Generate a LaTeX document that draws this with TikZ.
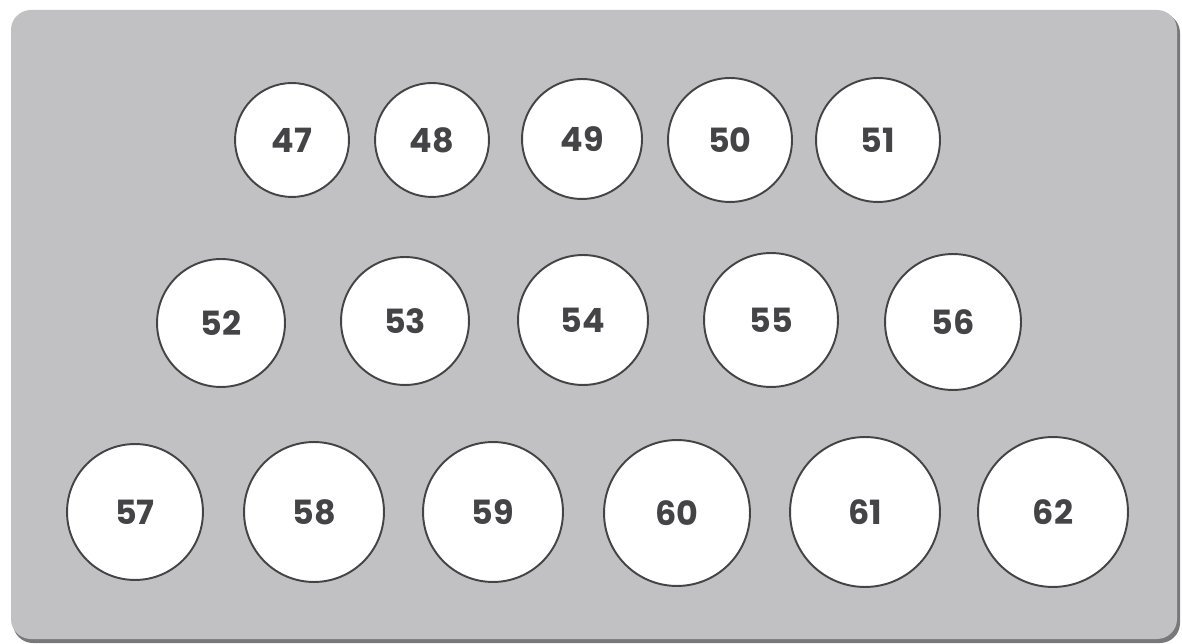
\documentclass[tikz,border=0pt]{standalone}
\usepackage{fontspec}
\setsansfont{Poppins}
\usetikzlibrary{positioning}
\definecolor{panel}{RGB}{193,193,196}
\definecolor{panelshade}{RGB}{120,120,124}
\definecolor{ink}{RGB}{68,68,70}

\begin{document}
\begin{tikzpicture}[x=0.02cm,y=-0.02cm,
  seat/.style={circle,draw=ink,fill=white,line width=1.1pt,inner sep=0pt,
               font=\sffamily\fontsize{19}{19}\selectfont\bfseries,text=ink}]
  \useasboundingbox (0,0) rectangle (1182,644);
  \fill[white] (0,0) rectangle (1182,644);
  % panel with a soft shadow
  \fill[panelshade,rounded corners=0.4cm] (13,13) rectangle (1180,643);
  \fill[panel,rounded corners=0.4cm] (11,10) rectangle (1177,639);
  % seats: number/x/y/radius (px)
  \foreach \n/\x/\y/\r in {
    47/292/140/57, 48/432/140/57, 49/582/139/60, 50/730/140/62, 51/878/140/62,
    52/221/323/64, 53/405/321/64, 54/583/320/65, 55/771/320/67, 56/953/322/68,
    57/135/512/68, 58/314/512/70, 59/493/512/70, 60/677/513/73, 61/865/512/75, 62/1053/512/75}{
    \node (c\n) [seat,minimum size=\r*0.04cm] at (\x,\y) {\n};
  }
\end{tikzpicture}
\end{document}
